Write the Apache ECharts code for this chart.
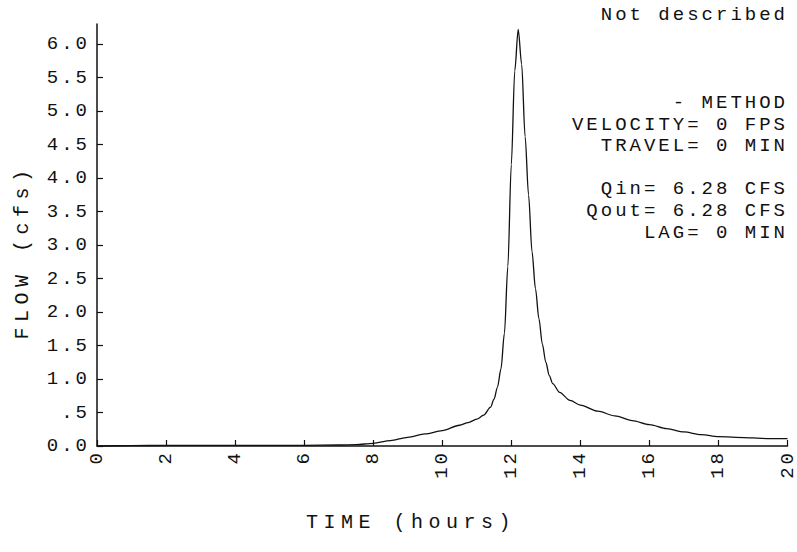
<!DOCTYPE html>
<html><head><meta charset="utf-8">
<script src="https://cdn.jsdelivr.net/npm/echarts@6/dist/echarts.min.js"></script>
<style>
html,body{margin:0;padding:0;background:#fff}
#c{width:797px;height:552px}
#c text{letter-spacing:3px}
</style>
</head><body><div id="c"></div>
<script>
// ---- data ----
const timeHours = [0,1,2,3,4,5,6,7,7.5,8,8.5,9,9.5,10,10.5,10.75,11,11.2,11.4,11.5,11.6,11.7,11.8,11.9,12.0,12.1,12.2,12.3,12.4,12.5,12.6,12.7,12.8,12.9,13.0,13.1,13.2,13.4,13.7,14.0,14.5,15.0,15.5,16.0,16.5,17.0,17.5,18.0,18.5,19.0,19.5,20.0];
const flowCfs   = [0,0.005,0.01,0.01,0.01,0.01,0.01,0.015,0.02,0.04,0.08,0.13,0.18,0.23,0.31,0.35,0.40,0.46,0.58,0.70,0.88,1.15,1.68,2.68,4.2,5.6,6.22,5.7,4.62,3.75,2.9,2.35,1.9,1.52,1.25,1.05,0.93,0.80,0.68,0.61,0.52,0.45,0.38,0.32,0.26,0.21,0.17,0.14,0.13,0.12,0.11,0.11];
const yTickValues = [0,0.5,1,1.5,2,2.5,3,3.5,4,4.5,5,5.5,6];
const xTickValues = [0,2,4,6,8,10,12,14,16,18,20];
const topNote = 'Not described';
const noteLines = ['- METHOD','VELOCITY= 0 FPS','TRAVEL= 0 MIN','Qin= 6.28 CFS','Qout= 6.28 CFS','LAG= 0 MIN'];
const xTitle = 'TIME (hours)';
const yTitle = 'FLOW (cfs)';

const FONT = 'Liberation Mono';
const INK = '#111';
const chart = echarts.init(document.getElementById('c'), null, {renderer:'svg'});
const noteY = [103,125,146,189,211,233];

chart.setOption({
  animation:false,
  backgroundColor:'#fff',
  grid:{left:97,right:8,top:24,bottom:106,containLabel:false},
  xAxis:{
    type:'value',min:0,max:20,interval:2,
    axisLine:{show:true,lineStyle:{color:INK,width:1.5}},
    axisTick:{show:true,inside:true,length:6,lineStyle:{color:INK,width:1.2},customValues:xTickValues},
    axisLabel:{rotate:90,margin:4,color:INK,fontFamily:FONT,fontSize:19,customValues:xTickValues,
      formatter:v=>String(v)},
    splitLine:{show:false}
  },
  yAxis:{
    type:'value',min:0,max:6.3,
    axisLine:{show:true,lineStyle:{color:INK,width:1.5}},
    axisTick:{show:true,inside:true,length:6,lineStyle:{color:INK,width:1.2},customValues:yTickValues},
    axisLabel:{margin:7,color:INK,fontFamily:FONT,fontSize:19,customValues:yTickValues,
      formatter:v=> (Math.abs(v-0.5)<1e-9 ? '.5' : v.toFixed(1))},
    splitLine:{show:false}
  },
  graphic:[
    {type:'text',x:788,y:15,style:{text:topNote,align:'right',verticalAlign:'middle',fill:INK,font:'19px "'+FONT+'"'}},
    ...noteLines.map((t,i)=>({type:'text',x:788,y:noteY[i],style:{text:t,align:'right',verticalAlign:'middle',fill:INK,font:'19px "'+FONT+'"'}})),
    {type:'text',x:411,y:522,style:{text:xTitle,align:'center',verticalAlign:'middle',fill:INK,font:'20px "'+FONT+'"'}},
    {type:'text',x:22,y:252,rotation:Math.PI/2,style:{text:yTitle,align:'center',verticalAlign:'middle',fill:INK,font:'20px "'+FONT+'"'}}
  ],
  series:[{
    type:'line',
    data:timeHours.map((t,i)=>[t,flowCfs[i]]),
    showSymbol:false,smooth:0.3,smoothMonotone:'x',clip:false,
    lineStyle:{color:INK,width:1.3}
  }]
});
function spaceTitles(){
  document.querySelectorAll('#c text').forEach(el=>{
    const s = el.textContent;
    if (s===xTitle || s===yTitle) el.style.letterSpacing='5.5px';
  });
}
chart.on('finished',spaceTitles);
setTimeout(spaceTitles,0);
</script>
</body></html>
